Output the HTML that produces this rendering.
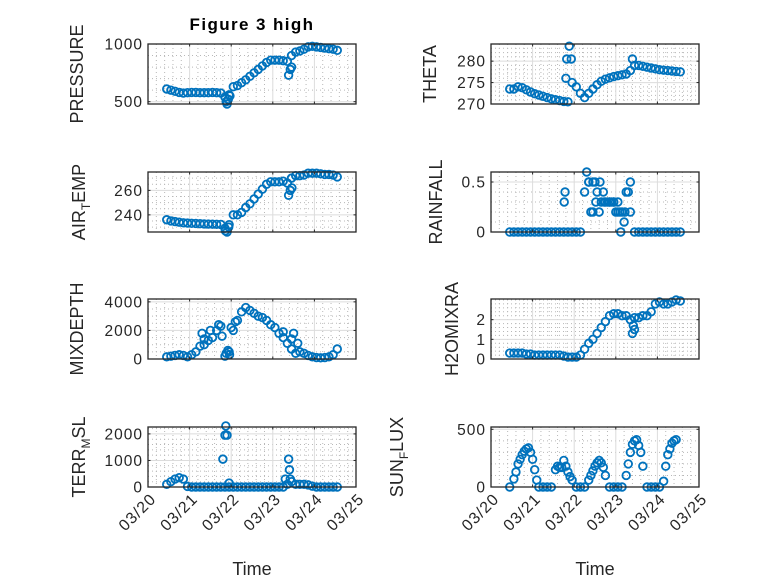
<!DOCTYPE html>
<html><head><meta charset="utf-8"><style>
html,body{margin:0;padding:0;background:#fff;}
svg{display:block;font-family:"Liberation Sans",sans-serif;}
</style></head><body>
<svg id="fig" width="778" height="583" viewBox="0 0 778 583">
<rect x="0" y="0" width="778" height="583" fill="#fff"/>
<text x="252" y="30" text-anchor="middle" font-weight="bold" font-size="17" letter-spacing="1.4" fill="#000">Figure 3 high</text>
</svg>
<script>
// Shared time axis: days after 03/20
const timeDays = [0.45,0.55,0.65,0.75,0.85,0.95,1.05,1.15,1.25,1.35,1.45,1.55,1.65,1.75,1.85,1.95,2.05,2.15,2.25,2.35,2.45,2.55,2.65,2.75,2.85,2.95,3.05,3.15,3.25,3.35,3.45,3.55,3.65,3.75,3.85,3.95,4.05,4.15,4.25,4.35,4.45,4.55];
const xTickLabels = ["03/20","03/21","03/22","03/23","03/24","03/25"];

const pressureVals = [610,600,590,580,575,578,580,580,578,578,578,580,578,575,540,560,630,640,665,690,720,750,780,810,840,860,860,860,855,850,900,930,940,955,975,980,975,970,965,960,955,945];
const pressureExtraT = [1.88,1.9,1.93,1.97,3.38,3.42,3.45];
const pressureExtraV = [500,480,520,550,730,780,800];
const pressureTicks = [500,1000];

const thetaVals = [273.5,273.5,274,273.8,273.3,272.8,272.4,272.1,271.8,271.5,271.2,271,270.8,270.6,270.5,275,274,272.5,271.5,272.5,273.5,274.5,275.3,275.8,276.1,276.4,276.6,276.8,277,277.8,279,279,278.8,278.6,278.4,278.2,278,277.9,277.8,277.7,277.6,277.5];
const thetaExtraT = [1.8,1.82,1.88,1.93,3.4];
const thetaExtraV = [276,280.5,283.5,280.5,280.5];
const thetaTicks = [270,275,280];

const airTempVals = [236,235,234.5,234,233.5,233.3,233.1,233,232.8,232.6,232.5,232.4,232.3,232.2,229,232,240,240,242,246,249,253,257,261,265,267,267,267,267.5,266,270,272,272,272.5,274,274,274,273.5,273,273,272.5,271];
const airTempExtraT = [1.86,1.9,1.94,3.38,3.42,3.46];
const airTempExtraV = [227,226,230,256,260,262];
const airTempTicks = [240,260];

const rainfallVals = [0,0,0,0,0,0,0,0,0,0,0,0,0,0,0,0,0,0,0.4,0.5,0.2,0.4,0.3,0.3,0.3,0.3,0.2,0.2,0.4,0.5,0,0,0,0,0,0,0,0,0,0,0,0];
const rainfallExtraT = [1.76,1.78,2.3,2.35,2.4,2.45,2.5,2.52,2.6,2.62,2.7,2.72,2.8,2.85,2.9,2.95,3.0,3.05,3.1,3.12,3.2,3.22,3.3,3.35];
const rainfallExtraV = [0.3,0.4,0.6,0.5,0.2,0.5,0.5,0.3,0.2,0.5,0.4,0.3,0.3,0.3,0.3,0.3,0.2,0.3,0.2,0,0.1,0.2,0.4,0.2];
const rainfallTicks = [0,0.5];

const mixDepthVals = [150,200,250,300,250,150,300,500,900,1400,1300,1500,2000,2300,200,500,2000,2700,3300,3600,3400,3200,3000,2900,2700,2400,2200,1800,1500,1100,700,400,500,400,250,150,100,80,100,150,300,700];
const mixDepthExtraT = [1.3,1.35,1.5,1.7,1.78,1.88,1.92,1.96,2.0,2.1,3.25,3.45,3.5,3.6];
const mixDepthExtraV = [1800,1000,2000,2400,1600,400,600,300,2200,2600,1900,1400,1800,1100];
const mixDepthTicks = [0,2000,4000];

const h2oVals = [0.3,0.3,0.3,0.3,0.25,0.25,0.2,0.2,0.2,0.2,0.2,0.2,0.2,0.15,0.1,0.1,0.1,0.2,0.5,0.8,1.0,1.3,1.6,1.9,2.2,2.3,2.3,2.2,2.2,2.0,2.1,2.1,2.2,2.2,2.4,2.8,2.9,2.8,2.8,2.9,3.0,2.95];
const h2oExtraT = [3.4,3.45,3.42];
const h2oExtraV = [1.3,1.5,1.7];
const h2oTicks = [0,1,2];

const terrVals = [100,200,300,350,300,20,0,0,0,0,0,0,0,0,0,0,0,0,0,0,0,0,0,0,0,0,0,0,0,100,200,100,100,100,80,30,0,0,0,0,0,0];
const terrExtraT = [1.8,1.85,1.87,1.9,1.95,3.3,3.38,3.4,3.42];
const terrExtraV = [1050,1950,2300,1950,150,300,1050,650,300];
const terrTicks = [0,1000,2000];

const sunVals = [0,70,200,280,330,300,150,0,0,0,0,150,170,230,130,60,0,0,0,60,140,210,210,100,0,0,0,0,100,300,400,360,180,0,0,0,0,50,280,380,410,null];
const sunExtraT = [0.6,0.7,0.8,0.9,1.0,1.1,1.6,1.7,1.8,1.9,2.4,2.5,2.6,2.7,3.3,3.4,3.5,3.6,4.2,4.3,4.4];
const sunExtraV = [130,240,310,340,240,60,180,170,180,90,100,180,230,170,200,370,410,300,180,330,400];
const sunTicks = [0,500];

const NS = "http://www.w3.org/2000/svg";
const svg = document.getElementById("fig");
function mk(tag, attrs, parent){
  const e = document.createElementNS(NS, tag);
  for (const k in attrs) e.setAttribute(k, attrs[k]);
  (parent||svg).appendChild(e);
  return e;
}

const panels = [
  {key:"pressure", x0:148, y0:44, label:["PRESSURE"], lx:77, ylim:[480,1000], minor:100, vals:pressureVals, et:pressureExtraT, ev:pressureExtraV, ticks:pressureTicks, showX:false},
  {key:"theta", x0:491, y0:44, label:["THETA"], lx:430, ylim:[270,284], minor:1, vals:thetaVals, et:thetaExtraT, ev:thetaExtraV, ticks:thetaTicks, showX:false},
  {key:"air-temp", x0:148, y0:172, label:["AIR","T","EMP"], lx:79, ylim:[226,275], minor:5, vals:airTempVals, et:airTempExtraT, ev:airTempExtraV, ticks:airTempTicks, showX:false},
  {key:"rainfall", x0:491, y0:172, label:["RAINFALL"], lx:436, ylim:[0,0.6], minor:0.1, vals:rainfallVals, et:rainfallExtraT, ev:rainfallExtraV, ticks:rainfallTicks, showX:false},
  {key:"mixdepth", x0:148, y0:299, label:["MIXDEPTH"], lx:77, ylim:[0,4200], minor:500, vals:mixDepthVals, et:mixDepthExtraT, ev:mixDepthExtraV, ticks:mixDepthTicks, showX:false},
  {key:"h2omixra", x0:491, y0:299, label:["H2OMIXRA"], lx:452, ylim:[0,3.05], minor:0.2, vals:h2oVals, et:h2oExtraT, ev:h2oExtraV, ticks:h2oTicks, showX:false},
  {key:"terr-msl", x0:148, y0:427, label:["TERR","M","SL"], lx:79, ylim:[0,2260], minor:200, vals:terrVals, et:terrExtraT, ev:terrExtraV, ticks:terrTicks, showX:true},
  {key:"sun-flux", x0:491, y0:427, label:["SUN","F","LUX"], lx:397, ylim:[0,520], minor:100, vals:sunVals, et:sunExtraT, ev:sunExtraV, ticks:sunTicks, showX:true}
];
const W = 208, H = 60;

panels.forEach(p => {
  const g = mk("g", {});
  
  
  const xs = t => p.x0 + t / 5 * W;
  const ys = v => p.y0 + H - (v - p.ylim[0]) / (p.ylim[1] - p.ylim[0]) * H;
  for (let t = 0.2; t < 5; t += 0.2) {
    if (Math.abs(t - Math.round(t)) < 1e-6) continue;
    const l = mk("line", {x1:xs(t), x2:xs(t), y1:p.y0, y2:p.y0+H, stroke:"#b8b8b8", "stroke-width":1, "stroke-dasharray":"1 3"}, g);
    
    
  }
  const start = Math.ceil(p.ylim[0] / p.minor) * p.minor;
  for (let v = start; v < p.ylim[1] - 1e-9; v += p.minor) {
    if (p.ticks.some(tk => Math.abs(tk - v) < 1e-6)) continue;
    const l = mk("line", {x1:p.x0, x2:p.x0+W, y1:ys(v), y2:ys(v), stroke:"#b8b8b8", "stroke-width":1, "stroke-dasharray":"1 3"}, g);
    
    
  }
  for (let d = 1; d < 5; d++) {
    const l = mk("line", {x1:xs(d), x2:xs(d), y1:p.y0, y2:p.y0+H, stroke:"#dcdcdc", "stroke-width":1}, g);
    
    
  }
  p.ticks.forEach(v => {
    const l = mk("line", {x1:p.x0, x2:p.x0+W, y1:ys(v), y2:ys(v), stroke:"#dcdcdc", "stroke-width":1}, g);
    
    
  });
  const mg = mk("g", {fill:"none", stroke:"#0072BD", "stroke-width":1.8}, g);
  
  
  const pts = [];
  timeDays.forEach((t, i) => { if (p.vals[i] !== null && p.vals[i] !== undefined) pts.push([t, p.vals[i]]); });
  p.et.forEach((t, i) => pts.push([t, p.ev[i]]));
  pts.forEach(pt => {
    const c = mk("circle", {cx:xs(pt[0]), cy:ys(pt[1]), r:3.8}, mg);
    
    
  });
  const b = mk("rect", {x:p.x0, y:p.y0, width:W, height:H, fill:"none", stroke:"#262626", "stroke-width":1.3}, g);
  
  
  for (let d = 0; d <= 5; d++) {
    const a = mk("line", {x1:xs(d), x2:xs(d), y1:p.y0+H, y2:p.y0+H-2.5, stroke:"#262626"}, g);
    
    
    const a2 = mk("line", {x1:xs(d), x2:xs(d), y1:p.y0, y2:p.y0+2.5, stroke:"#262626"}, g);
    
    
    if (p.showX) {
      const tx = xs(d) + 9, ty = p.y0 + H + 13;
      const lab = mk("text", {x:tx, y:ty, "text-anchor":"end", "font-size":16, "letter-spacing":"1", fill:"#262626", transform:`rotate(-45 ${tx} ${ty})`}, g);
      lab.textContent = xTickLabels[d];
      
      
    }
  }
  p.ticks.forEach(v => {
    const a = mk("line", {x1:p.x0, x2:p.x0+2.5, y1:ys(v), y2:ys(v), stroke:"#262626"}, g);
    
    
    const a2 = mk("line", {x1:p.x0+W, x2:p.x0+W-2.5, y1:ys(v), y2:ys(v), stroke:"#262626"}, g);
    
    
    const lab = mk("text", {x:p.x0-5, y:ys(v)+5.5, "text-anchor":"end", "font-size":15.5, "letter-spacing":"1", fill:"#262626"}, g);
    lab.textContent = String(v);
    
    
  });
  const cy = p.y0 + H / 2;
  const yl = mk("text", {x:p.lx+6, y:cy, "text-anchor":"middle", "font-size":18, fill:"#262626", transform:`rotate(-90 ${p.lx+6} ${cy})`}, g);
  
  
  if (p.label.length === 1) {
    yl.textContent = p.label[0];
  } else {
    const t1 = mk("tspan", {}, yl); t1.textContent = p.label[0];
    const t2 = mk("tspan", {dy:5, "font-size":12}, yl); t2.textContent = p.label[1];
    const t3 = mk("tspan", {dy:-5}, yl); t3.textContent = p.label[2];
  }
});

const tl1 = mk("text", {x:252, y:575, "text-anchor":"middle", "font-size":18, fill:"#262626"});
tl1.textContent = "Time";


const tl2 = mk("text", {x:595, y:575, "text-anchor":"middle", "font-size":18, fill:"#262626"});
tl2.textContent = "Time";


</script>
</body></html>
